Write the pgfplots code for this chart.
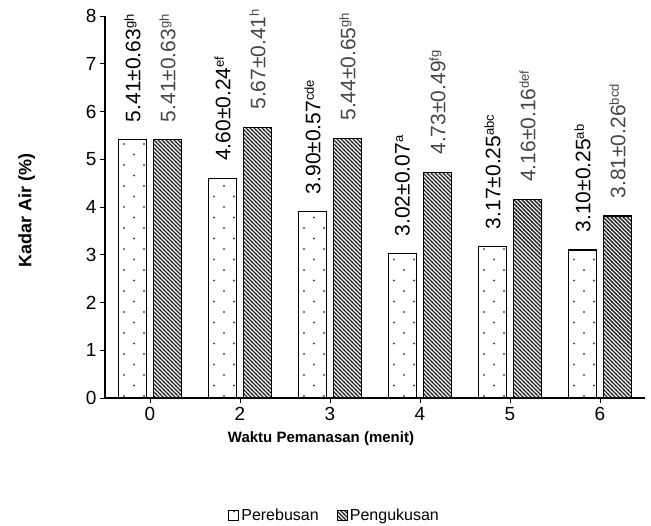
\documentclass[border=0pt]{standalone}
\usepackage{pgfplots}
\pgfplotsset{compat=1.18}
\usepackage{fontspec}
\setmainfont{Liberation Sans}
\usetikzlibrary{patterns}
\pgfdeclarepatternformonly{sparsedots}{\pgfqpoint{-1bp}{-1bp}}{\pgfqpoint{21bp}{22bp}}{\pgfqpoint{20bp}{21bp}}{%
  \pgfpathcircle{\pgfqpoint{4bp}{4bp}}{1.2bp}%
  \pgfpathcircle{\pgfqpoint{14bp}{14.5bp}}{1.2bp}%
  \pgfusepath{fill}}
\pgfdeclarepatternformonly{densenw}{\pgfqpoint{-1bp}{-1bp}}{\pgfqpoint{5bp}{5bp}}{\pgfqpoint{4bp}{4bp}}{%
  \pgfsetlinewidth{1.4bp}%
  \pgfpathmoveto{\pgfqpoint{-0.2bp}{4.2bp}}%
  \pgfpathlineto{\pgfqpoint{4.2bp}{-0.2bp}}%
  \pgfusepath{stroke}}
\newcommand{\sps}[1]{\raisebox{6.5bp}{\fontsize{13bp}{13bp}\selectfont #1}}
\begin{document}
\begin{tikzpicture}
\useasboundingbox (0,0) rectangle (651bp,526bp);
\begin{axis}[
  at={(105bp,128bp)}, anchor=south west,
  scale only axis, width=540bp, height=382bp,
  ybar, bar width=28bp,
  xmin=-0.5, xmax=5.5, ymin=0, ymax=8,
  enlargelimits=false,
  axis x line*=bottom, axis y line*=left,
  axis line style={line width=1.3bp, black},
  xtick={0,1,2,3,4,5}, xticklabels={0,2,3,4,5,6},
  ytick={0,1,2,3,4,5,6,7,8},
  tick align=outside, major tick length=5bp,
  tick style={line width=1bp, black},
  /pgf/number format/assume math mode=true,
  ticklabel style={font=\fontsize{19bp}{21bp}\selectfont},
  xticklabel style={yshift=-1bp},
  xlabel={Waktu Pemanasan (menit)},
  ylabel={Kadar Air (\%)},
  xlabel style={font=\fontsize{15bp}{17bp}\selectfont\bfseries, at={(axis description cs:0.4,-0.107)}, anchor=center},
  ylabel style={font=\fontsize{18bp}{20bp}\selectfont\bfseries, at={(axis description cs:-0.145,0.49)}, anchor=center},
  legend columns=2,
  legend style={draw=none, at={(0.425,-0.308)}, anchor=center, font=\fontsize{16bp}{18bp}\selectfont, /tikz/every even column/.append style={column sep=16bp}},
  legend image code/.code={\draw[#1, line width=1.2bp] (0bp,-5bp) rectangle (10bp,5bp);},
  point meta=explicit symbolic,
  nodes near coords,
  nodes near coords style={rotate=90, anchor=west, inner xsep=17bp, font=\fontsize{21bp}{23bp}\selectfont},
]
\addplot[draw=black, line width=1.2bp, pattern=sparsedots, pattern color=black!70, bar shift=-17.5bp,
  nodes near coords style={text=black}]
  coordinates {
  (0,5.41) [{5.41±0.63\sps{gh}}]
  (1,4.60) [{4.60±0.24\sps{ef}}]
  (2,3.90) [{3.90±0.57\sps{cde}}]
  (3,3.02) [{3.02±0.07\sps{a}}]
  (4,3.17) [{3.17±0.25\sps{abc}}]
  (5,3.10) [{3.10±0.25\sps{ab}}]
  };
\addplot[draw=black, line width=1.2bp, pattern=densenw, pattern color=black!85, bar shift=17.5bp,
  nodes near coords style={text=black!72}]
  coordinates {
  (0,5.41) [{5.41±0.63\sps{gh}}]
  (1,5.67) [{5.67±0.41\sps{h}}]
  (2,5.44) [{5.44±0.65\sps{gh}}]
  (3,4.73) [{4.73±0.49\sps{fg}}]
  (4,4.16) [{4.16±0.16\sps{def}}]
  (5,3.81) [{3.81±0.26\sps{bcd}}]
  };
\legend{Perebusan,Pengukusan}
\end{axis}
\end{tikzpicture}
\end{document}
